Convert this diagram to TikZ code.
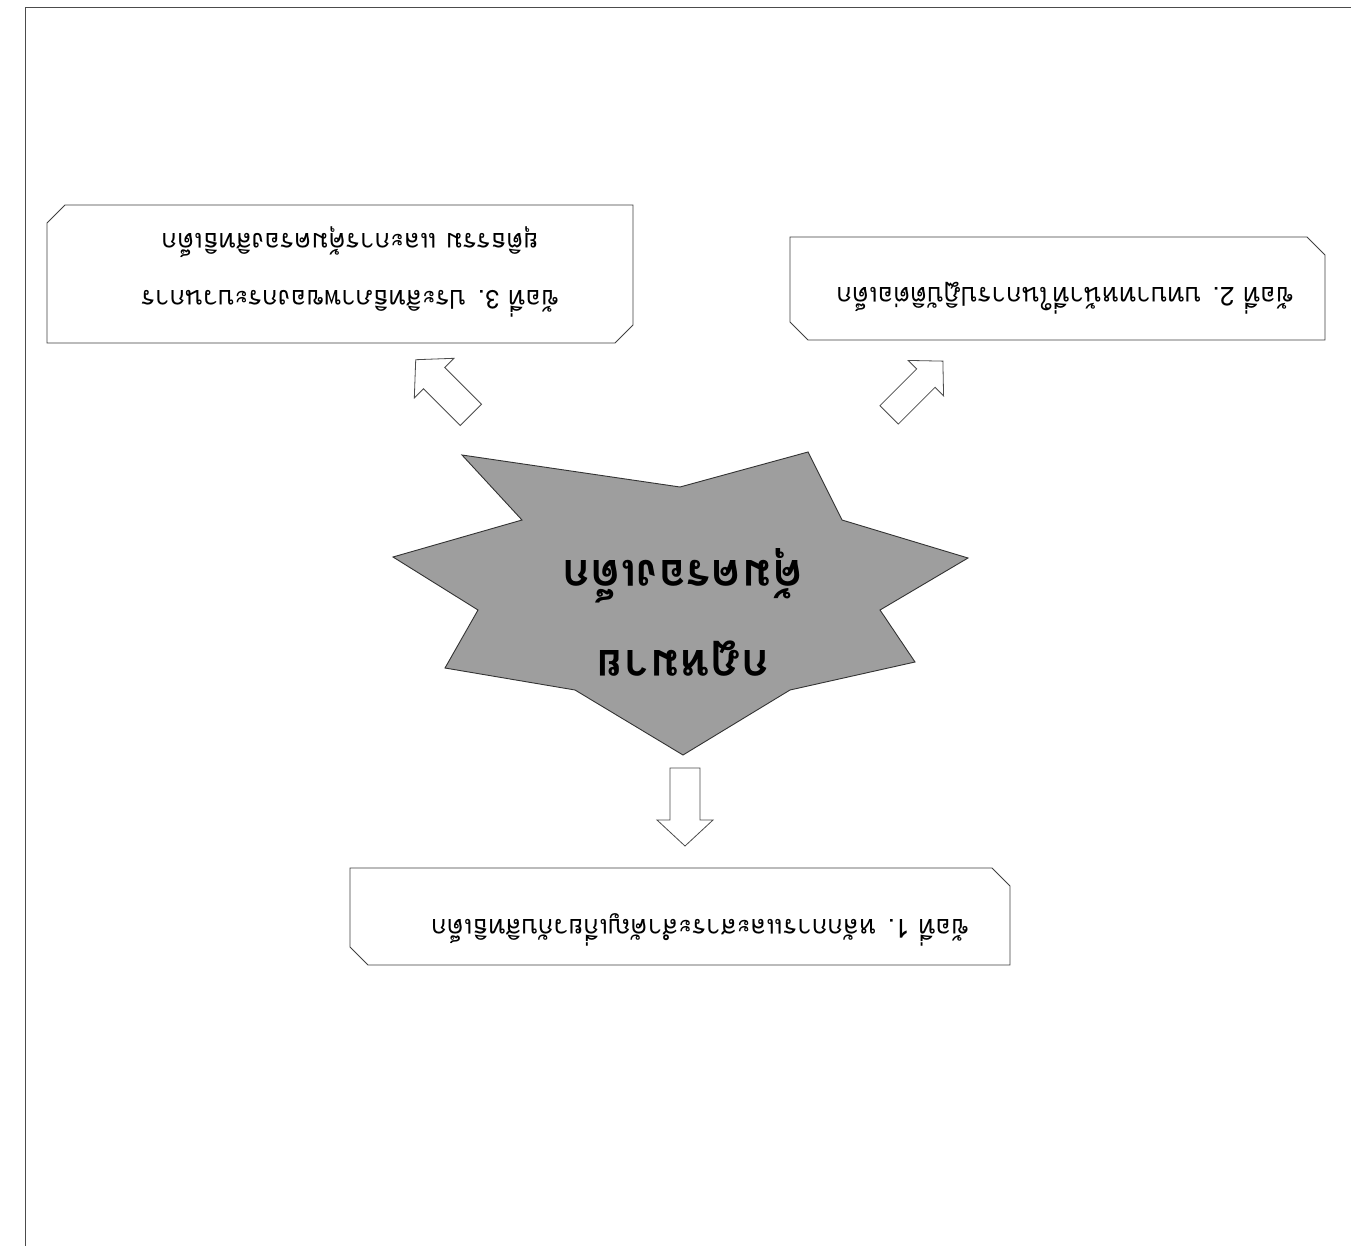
\documentclass[tikz,border=0pt]{standalone}
\usepackage{fontspec}
\newfontfamily\thaifont[Script=Thai]{Loma}
\tikzset{
  boxshape/.style={draw=black!75, line width=0.9pt, fill=white},
  blockarrow/.style={draw=black!70, line width=0.8pt, fill=white},
  boxtext/.style={font=\thaifont\fontsize{26}{57}\selectfont, rotate=180, inner sep=0pt},
  startext/.style={font=\thaifont\bfseries\fontsize{46}{90}\selectfont, rotate=180, inner sep=0pt, align=center},
}
\begin{document}
\begin{tikzpicture}[x=1pt,y=-1pt]
\fill[white] (0,0) rectangle (1351,1246);
\useasboundingbox (0,0) rectangle (1351,1246);
% page frame
\draw[black!70, line width=1pt] (25,1246) -- (25,8) -- (1351,8);
% star
\draw[fill=black!38, draw=black!80, line width=0.9pt]
  (683,755) -- (790,690) -- (915,662) -- (880,610) -- (968,558) -- (842,520)
  -- (808,452) -- (680,487) -- (462,455) -- (522,520) -- (393,557)
  -- (478,610) -- (445,668) -- (575,690) -- cycle;
\node[startext] (star) at (683,612) {กฎหมาย\\คุ้มครองเด็ก};
% boxes
\draw[boxshape] (350,868) -- (992,868) -- (1010,886) -- (1010,965) -- (368,965) -- (350,947) -- cycle;
\draw[boxshape] (790,237) -- (1307,237) -- (1325,255) -- (1325,340) -- (808,340) -- (790,322) -- cycle;
\draw[boxshape] (65,205) -- (633,205) -- (633,325) -- (615,343) -- (47,343) -- (47,223) -- cycle;
\node[boxtext] (t1) at (700,930) {ข้อที่ 1. หลักการและสาระสำคัญเกี่ยวกับสิทธิเด็ก};
\node[boxtext] (t2) at (1065,298) {ข้อที่ 2. บทบาทหน้าที่ในการปฏิบัติต่อเด็ก};
\node[boxtext, align=center] (t3) at (350,272) {ข้อที่ 3. ประสิทธิภาพของกระบวนการ\\ยุติธรรม และการคุ้มครองสิทธิเด็ก};
% block arrows
\begin{scope}[shift={(685,806)}, rotate=-90]
  \draw[blockarrow] (-38,-15) -- (14,-15) -- (14,-28) -- (40,0) -- (14,28) -- (14,15) -- (-38,15) -- cycle;
\end{scope}
\begin{scope}[shift={(444,388)}, rotate=135]
  \draw[blockarrow] (-38,-15) -- (14,-15) -- (14,-28) -- (40,0) -- (14,28) -- (14,15) -- (-38,15) -- cycle;
\end{scope}
\begin{scope}[shift={(916,388)}, rotate=45]
  \draw[blockarrow] (-38,-13) -- (14,-13) -- (14,-25) -- (38,0) -- (14,25) -- (14,13) -- (-38,13) -- cycle;
\end{scope}
\end{tikzpicture}
\end{document}
